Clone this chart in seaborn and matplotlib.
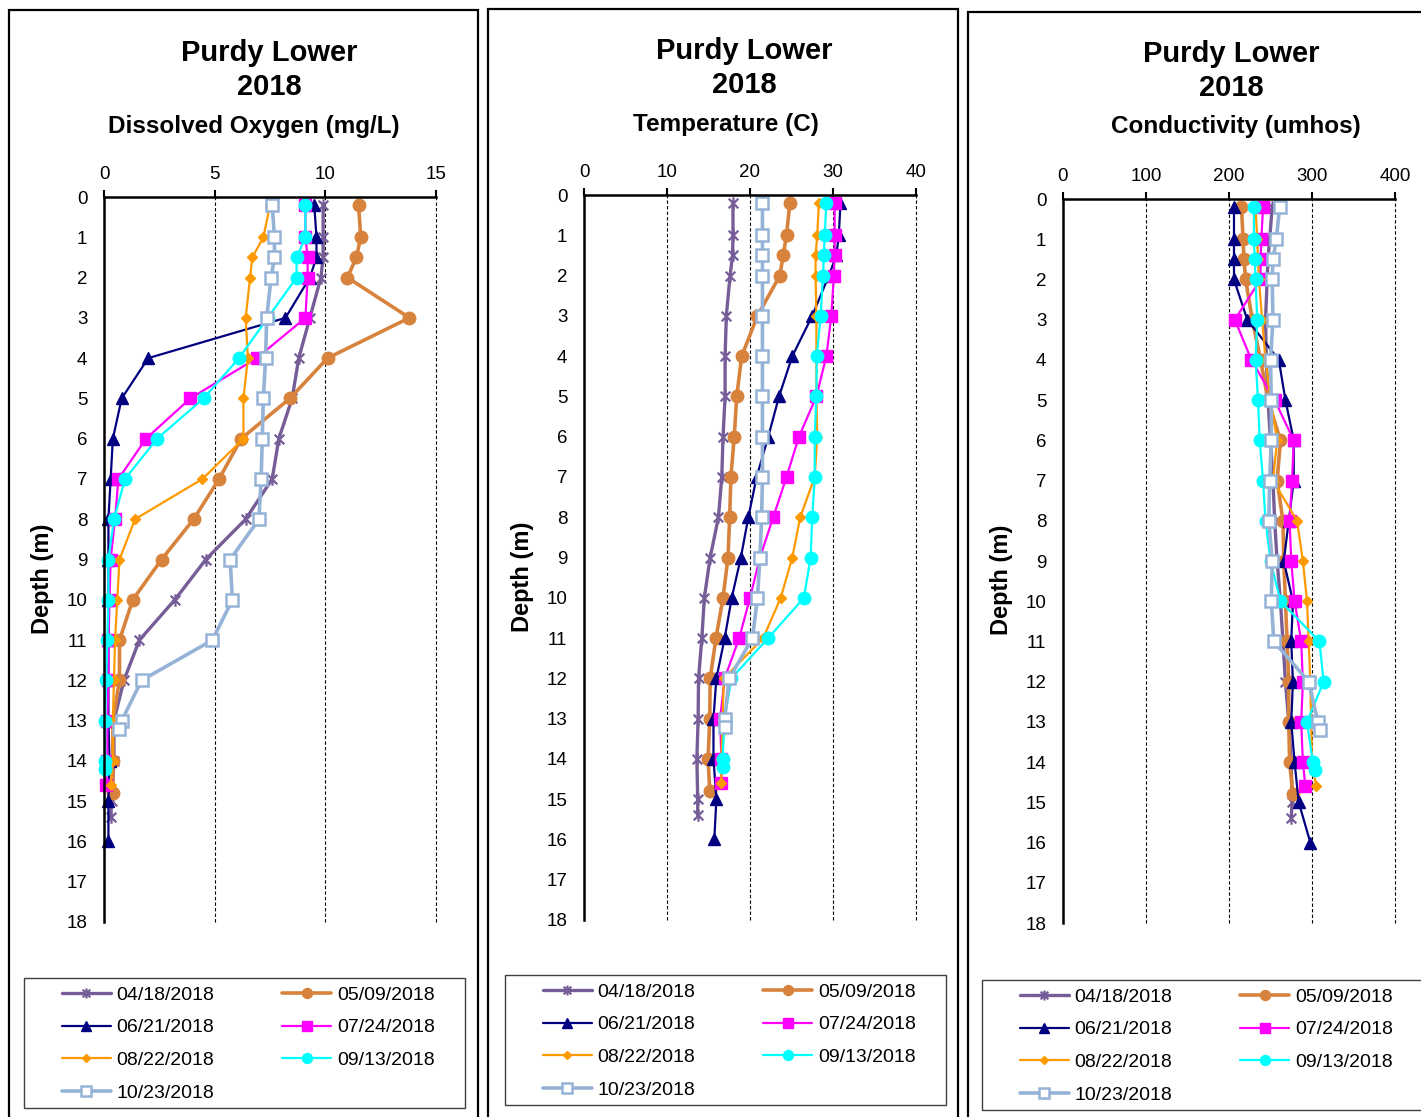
import numpy as np
import pandas as pd
import seaborn as sns
import matplotlib.pyplot as plt
from matplotlib.patches import Rectangle
from matplotlib.path import Path

sns.set_style('white')
plt.rcParams['font.family'] = ['Liberation Sans', 'DejaVu Sans']
plt.rcParams['text.color'] = 'black'
plt.rcParams['axes.labelcolor'] = 'black'
plt.rcParams['xtick.color'] = 'black'
plt.rcParams['ytick.color'] = 'black'

W, H = 1421, 1117

dates = ['04/18/2018', '05/09/2018', '06/21/2018', '07/24/2018',
         '08/22/2018', '09/13/2018', '10/23/2018']

# sample depths (m) for each survey date
depth_0418 = [0.2, 1, 1.5, 2, 3, 4, 5, 6, 7, 8, 9, 10, 11, 12, 13, 14, 15, 15.4]
depth_0509 = [0.2, 1, 1.5, 2, 3, 4, 5, 6, 7, 8, 9, 10, 11, 12, 13, 14, 14.8]
depth_0621 = [0.2, 1, 1.5, 2, 3, 4, 5, 6, 7, 8, 9, 10, 11, 12, 13, 14, 15, 16]
depth_0724 = [0.2, 1, 1.5, 2, 3, 4, 5, 6, 7, 8, 9, 10, 11, 12, 13, 14, 14.6]
depth_0822 = [0.2, 1, 1.5, 2, 3, 4, 5, 6, 7, 8, 9, 10, 11, 12, 13, 14, 14.6]
depth_0913 = [0.2, 1, 1.5, 2, 3, 4, 5, 6, 7, 8, 9, 10, 11, 12, 13, 14, 14.2]
depth_1023 = [0.2, 1, 1.5, 2, 3, 4, 5, 6, 7, 8, 9, 10, 11, 12, 13, 13.2]

# dissolved oxygen (mg/L)
do_0418 = [9.9, 9.9, 9.9, 9.8, 9.3, 8.8, 8.5, 7.9, 7.6, 6.4, 4.6, 3.2, 1.6, 0.9, 0.45, 0.45, 0.35, 0.3]
do_0509 = [11.5, 11.6, 11.4, 11.0, 13.8, 10.1, 8.4, 6.2, 5.2, 4.05, 2.6, 1.3, 0.7, 0.7, 0.4, 0.4, 0.4]
do_0621 = [9.5, 9.6, 9.6, 9.3, 8.2, 2.0, 0.8, 0.4, 0.3, 0.2, 0.2, 0.2, 0.2, 0.2, 0.2, 0.25, 0.2, 0.2]
do_0724 = [9.1, 9.1, 9.2, 9.2, 9.1, 6.9, 3.9, 1.9, 0.65, 0.5, 0.3, 0.25, 0.2, 0.2, 0.15, 0.15, 0.1]
do_0822 = [7.5, 7.2, 6.7, 6.6, 6.4, 6.5, 6.3, 6.3, 4.45, 1.4, 0.7, 0.6, 0.5, 0.45, 0.4, 0.4, 0.3]
do_0913 = [9.1, 9.1, 8.7, 8.7, 7.4, 6.1, 4.5, 2.4, 0.95, 0.45, 0.2, 0.2, 0.15, 0.1, 0.05, 0.05, 0.05]
do_1023 = [7.6, 7.7, 7.7, 7.55, 7.35, 7.3, 7.2, 7.15, 7.1, 7.0, 5.7, 5.8, 4.9, 1.7, 0.8, 0.7]

# temperature (C)
temp_0418 = [17.95, 17.95, 17.9, 17.6, 17.15, 17.0, 17.0, 16.75, 16.6, 16.2, 15.2, 14.5, 14.2, 13.8, 13.75, 13.6, 13.7, 13.7]
temp_0509 = [24.8, 24.4, 24.0, 23.6, 20.9, 19.0, 18.4, 18.1, 17.7, 17.55, 17.35, 16.75, 15.9, 15.2, 15.15, 14.95, 15.15]
temp_0621 = [30.9, 30.7, 30.4, 29.5, 27.5, 25.1, 23.5, 22.2, 20.8, 19.8, 18.9, 17.8, 16.95, 15.95, 15.6, 15.6, 15.95, 15.7]
temp_0724 = [30.2, 30.2, 30.2, 30.1, 29.8, 29.2, 28.0, 25.9, 24.4, 22.8, 21.2, 20.0, 18.7, 16.95, 16.4, 16.55, 16.55]
temp_0822 = [28.3, 28.1, 27.9, 27.9, 28.0, 28.0, 28.0, 28.1, 27.8, 26.05, 25.1, 23.7, 21.6, 16.85, 16.7, 16.55, 16.55]
temp_0913 = [29.2, 29.0, 28.9, 28.8, 28.5, 28.05, 28.0, 27.8, 27.8, 27.5, 27.3, 26.5, 22.2, 17.75, 16.95, 16.7, 16.7]
temp_1023 = [21.5, 21.5, 21.5, 21.5, 21.5, 21.5, 21.5, 21.5, 21.5, 21.4, 21.2, 20.9, 20.3, 17.5, 16.95, 16.95]

# conductivity (umhos)
cond_0418 = [252, 249, 247, 246, 244, 245, 247, 250, 253, 255, 258, 262, 265, 268, 272, 275, 276, 275]
cond_0509 = [215, 217, 218, 220, 228, 238, 247, 262, 258, 265, 266, 268, 270, 272, 272, 273, 277]
cond_0621 = [206, 206, 206, 206, 222, 260, 268, 278, 278, 272, 266, 277, 275, 277, 275, 279, 284, 298]
cond_0724 = [241, 239, 238, 238, 207, 227, 255, 278, 276, 273, 275, 279, 287, 289, 287, 289, 292]
cond_0822 = [232, 234, 235, 236, 240, 244, 250, 258, 253, 282, 289, 294, 296, 298, 299, 300, 305]
cond_0913 = [230, 230, 231, 232, 234, 232, 235, 237, 241, 244, 250, 262, 309, 314, 294, 301, 304]
cond_1023 = [261, 257, 253, 252, 253, 250, 251, 251, 249, 248, 252, 251, 254, 296, 307, 310]

depths = [depth_0418, depth_0509, depth_0621, depth_0724, depth_0822, depth_0913, depth_1023]
do_vals = [do_0418, do_0509, do_0621, do_0724, do_0822, do_0913, do_1023]
temp_vals = [temp_0418, temp_0509, temp_0621, temp_0724, temp_0822, temp_0913, temp_1023]
cond_vals = [cond_0418, cond_0509, cond_0621, cond_0724, cond_0822, cond_0913, cond_1023]

# excel-like "star" marker: an x with a vertical stroke
star = Path([(-1, -1), (1, 1), (-1, 1), (1, -1), (0, -1.3), (0, 1.3)],
            [Path.MOVETO, Path.LINETO] * 3)

styles = [
    dict(color='#765D97', marker=star, markersize=9, linewidth=2.4,
         markerfacecolor='#765D97', markeredgecolor='#765D97', markeredgewidth=1.6),
    dict(color='#D8833D', marker='o', markersize=9, linewidth=2.6,
         markerfacecolor='#D8833D', markeredgecolor='#D8833D', markeredgewidth=1),
    dict(color='#000080', marker='^', markersize=9, linewidth=1.6,
         markerfacecolor='#000080', markeredgecolor='#000080', markeredgewidth=1),
    dict(color='#FF00FF', marker='s', markersize=8.5, linewidth=1.6,
         markerfacecolor='#FF00FF', markeredgecolor='#FF00FF', markeredgewidth=1),
    dict(color='#FF9900', marker='D', markersize=5.5, linewidth=1.6,
         markerfacecolor='#FF9900', markeredgecolor='#FF9900', markeredgewidth=1),
    dict(color='#00FFFF', marker='o', markersize=9, linewidth=1.6,
         markerfacecolor='#00FFFF', markeredgecolor='#00FFFF', markeredgewidth=1),
    dict(color='#95B3D7', marker='s', markersize=8.5, linewidth=2.6,
         markerfacecolor='white', markeredgecolor='#95B3D7', markeredgewidth=1.8),
]

fig = plt.figure(figsize=(W / 100, H / 100), dpi=100)


def fx(px):
    return px / W


def fy(py):
    return 1 - py / H


def drawPanel(left, right, top, bottom, values, xmax, xstep, title_x, subtitle, sub_x, dy, leg_dx, leg_dy):
    ax = fig.add_axes([fx(left), fy(bottom), fx(right - left), fy(top) - fy(bottom)])
    lines = []
    for vals, dep, st, lab in zip(values, depths, styles, dates):
        sns.lineplot(x=vals, y=dep, sort=False, estimator=None, orient='y',
                     ax=ax, label=lab, clip_on=False, **st)
        lines.append(ax.lines[-1])

    ax.set_xlim(0, xmax)
    ax.set_ylim(18, 0)
    ax.set_xticks(np.arange(0, xmax + 1, xstep))
    ax.set_yticks(np.arange(0, 19, 1))
    ax.xaxis.tick_top()
    ax.set_xlabel('')
    ax.set_ylabel('Depth (m)', fontsize=17, fontweight='bold')
    ax.yaxis.set_label_coords(-0.15, 0.474)
    ax.tick_params(axis='x', direction='out', length=5, width=1.5, labelsize=13.5, pad=5)
    ax.tick_params(axis='y', direction='out', length=7, width=1.5, labelsize=13.5, pad=5)
    for s in ['right', 'bottom']:
        ax.spines[s].set_visible(False)
    for s in ['top', 'left']:
        ax.spines[s].set_linewidth(1.8)
        ax.spines[s].set_color('black')
    ax.grid(False)
    ax.xaxis.grid(True, color='black', linestyle=(0, (3, 2)), linewidth=0.8)
    for gl in ax.get_xgridlines():
        gl.set_clip_on(False)
    ax.set_axisbelow(True)

    # titles
    fig.text(fx(title_x), fy(53 + dy), 'Purdy Lower', ha='center', va='center',
             fontsize=21, fontweight='bold')
    fig.text(fx(title_x), fy(87 + dy), '2018', ha='center', va='center',
             fontsize=21, fontweight='bold')
    fig.text(fx(sub_x), fy(126 + dy), subtitle, ha='center',
             va='center', fontsize=17.5, fontweight='bold')

    # legend, two columns filled column by column
    order = [0, 2, 4, 6, 1, 3, 5]
    ax.legend([lines[i] for i in order], [dates[i] for i in order], ncol=2,
              loc='upper left', bbox_to_anchor=(fx(62 + leg_dx), fy(986 + leg_dy)),
              bbox_transform=fig.transFigure, frameon=False, borderpad=0,
              fontsize=14, handlelength=2.5, handletextpad=0.3, markerscale=0.8,
              columnspacing=3.5, labelspacing=0.78, borderaxespad=0)
    fig.add_artist(Rectangle((fx(24 + leg_dx), fy(1108 + leg_dy)), fx(441), fy(978) - fy(1108),
                             transform=fig.transFigure, fill=False,
                             edgecolor='#404040', linewidth=1))
    return ax


ax1 = drawPanel(104, 436, 197, 922, do_vals, 15, 5, 269, 'Dissolved Oxygen (mg/L)', 254, 0, 0, 0)
ax2 = drawPanel(584, 916, 195, 920, temp_vals, 40, 10, 744, 'Temperature (C)', 726, -2, 481, -3)
ax3 = drawPanel(1063, 1395, 199, 923, cond_vals, 400, 100, 1231, 'Conductivity (umhos)', 1236, 1, 958, 2)

# panel frames
for x0, x1, y0 in [(9, 478, 10), (488, 958, 9), (968, 1430, 12)]:
    fig.add_artist(Rectangle((fx(x0), -0.02), fx(x1 - x0), fy(y0) + 0.02,
                             transform=fig.transFigure, fill=False,
                             edgecolor='black', linewidth=1.6))

fig.savefig('out.png', dpi=100)
